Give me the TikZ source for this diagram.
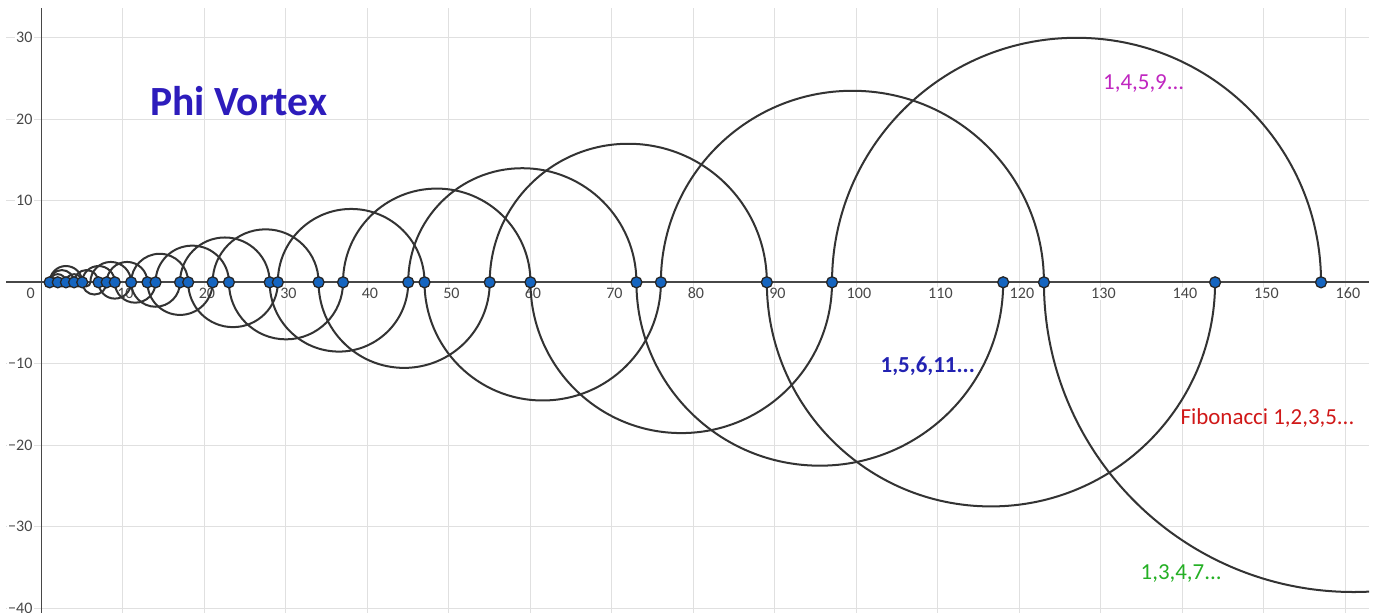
\documentclass[tikz,border=0pt]{standalone}
\usepackage{fontspec}
\setmainfont{Carlito}
\usepackage{xcolor}
\usepackage{tikz}
\definecolor{vortexblue}{RGB}{45,28,188}
\definecolor{seqmagenta}{RGB}{192,38,192}
\definecolor{seqblue}{RGB}{34,34,178}
\definecolor{seqred}{RGB}{208,24,24}
\definecolor{seqgreen}{RGB}{36,176,36}
\definecolor{dotblue}{RGB}{21,101,192}
\definecolor{gridgray}{RGB}{224,224,224}

\begin{document}
\begin{tikzpicture}[
  x=1mm, y=1mm,
  gridline/.style={gridgray, line width=0.35pt},
  axis/.style={black!72, line width=0.6pt},
  ticklabel/.style={font=\fontsize{5.6}{6.5}\selectfont, text=black!72, fill=white, inner sep=0.4pt},
  spiral/.style={black!80, line width=0.7pt},
  hump/.style={start angle=180, end angle=0},
  dip/.style={start angle=180, end angle=360},
  dot/.style={circle, draw=black!85, fill=dotblue, line width=0.45pt, minimum size=1.35mm, inner sep=0pt},
  seqlabel/.style={anchor=base west, font=\fontsize{8}{9}\selectfont, inner sep=0pt}
]
\fill[white] (-5.09,-40.57) rectangle (163.99,34.64);
\useasboundingbox (-5.09,-40.57) rectangle (163.99,34.64);

% grid, axes and tick labels
\draw[gridline, step=10] (-4.35,-40.57) grid (162.9,33.66);
\node[ticklabel] (x0) at (-1.33,-1.35) {0};
\foreach \t in {10,20,...,160}
  \node[ticklabel] (x\t) at (\t+0.3,-1.35) {\t};
\foreach \t/\s in {-40/−40,-30/−30,-20/−20,-10/−10,10/10,20/20,30/30}
  \node[ticklabel, anchor=east] (y\t) at (-0.9,\t) {\s};
\draw[axis] (-4.35,0) -- (162.9,0);
\draw[axis] (0,-40.57) -- (0,33.66);

% the four half-circle spirals
\begin{scope}
\clip (-4.35,-40.57) rectangle (162.9,33.66);
% Fibonacci 1,2,3,5...
\draw[spiral] (1,0) arc[hump, radius=0.5] arc[dip, radius=0.5]
  arc[hump, radius=1] arc[dip, radius=1.5] arc[hump, radius=2.5]
  arc[dip, radius=4] arc[hump, radius=6.5] arc[dip, radius=10.5]
  arc[hump, radius=17] arc[dip, radius=27.5];
% 1,3,4,7...
\draw[spiral] (1,0) arc[hump, radius=1] arc[dip, radius=0.5]
  arc[hump, radius=1.5] arc[dip, radius=2] arc[hump, radius=3.5]
  arc[dip, radius=5.5] arc[hump, radius=9] arc[dip, radius=14.5]
  arc[hump, radius=23.5] arc[dip, radius=38];
% 1,4,5,9...
\draw[spiral] (1,0) arc[hump, radius=1.5] arc[dip, radius=0.5]
  arc[hump, radius=2] arc[dip, radius=2.5] arc[hump, radius=4.5]
  arc[dip, radius=7] arc[hump, radius=11.5] arc[dip, radius=18.5]
  arc[hump, radius=30];
% 1,5,6,11...
\draw[spiral] (1,0) arc[hump, radius=2] arc[dip, radius=0.5]
  arc[hump, radius=2.5] arc[dip, radius=3] arc[hump, radius=5.5]
  arc[dip, radius=8.5] arc[hump, radius=14] arc[dip, radius=22.5];
\end{scope}

% points on the axis
\foreach \n in {1,2,3,4,5,7,8,9,11,13,14,17,18,21,23,28,29,34,37,45,47,55,60,73,76,89,97,118,123,144,157}
  \node[dot] (p\n) at (\n,0) {};

% titles
\node[anchor=base, font=\fontsize{14.5}{16}\selectfont\bfseries, text=vortexblue] (title) at (24.2,20.5) {Phi Vortex};
\node[seqlabel, text=seqmagenta] (lblfour) at (130.2,23.6) {1,4,5,9...};
\node[seqlabel, text=seqblue, font=\fontsize{8}{9}\selectfont\bfseries] (lblfive) at (102.9,-11.04) {1,5,6,11...};
\node[seqlabel, text=seqred] (lblfib) at (139.7,-17.39) {Fibonacci 1,2,3,5...};
\node[seqlabel, text=seqgreen] (lbllucas) at (134.8,-36.44) {1,3,4,7...};
\end{tikzpicture}
\end{document}
